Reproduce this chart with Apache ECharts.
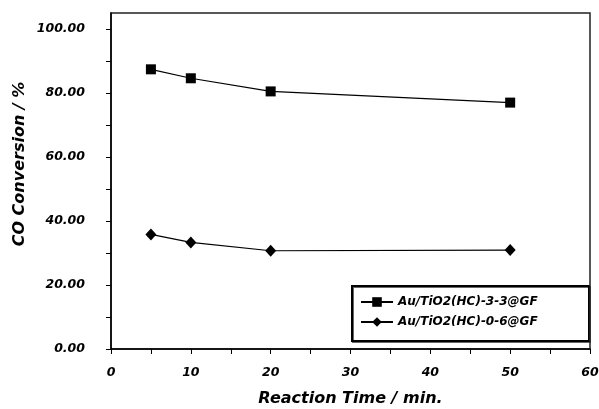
<!DOCTYPE html>
<html>
<head>
<meta charset="utf-8">
<script src="https://cdn.jsdelivr.net/npm/echarts@6/dist/echarts.min.js"></script>
<style>html,body{margin:0;padding:0;background:#fff}#c{width:599px;height:409px}</style>
</head>
<body>
<div id="c"></div>
<script>
const times = [5, 10, 20, 50];
const seriesNames = ['Au/TiO2(HC)-3-3@GF', 'Au/TiO2(HC)-0-6@GF'];
const conv33 = [87.4, 84.6, 80.5, 77.0];
const conv06 = [35.8, 33.3, 30.7, 30.9];
const xTickValues = [0, 5, 10, 15, 20, 25, 30, 35, 40, 45, 50, 55, 60];
const xLabelValues = [0, 10, 20, 30, 40, 50, 60];
const yTickValues = [0, 10, 20, 30, 40, 50, 60, 70, 80, 90, 100];
const yLabelValues = [0, 20, 40, 60, 80, 100];

const FONT = "'DejaVu Sans', sans-serif";
const chart = echarts.init(document.getElementById('c'), null, {renderer: 'canvas'});
const pairs = arr => times.map((t, i) => [t, arr[i]]);

chart.setOption({
  animation: false,
  backgroundColor: '#fff',
  grid: {left: 111, right: 9, top: 13, bottom: 60, containLabel: false, outerBoundsMode: 'none',
         show: true, borderColor: '#222', borderWidth: 1.5},
  xAxis: {
    type: 'value', min: 0, max: 60,
    name: 'Reaction Time / min.', nameLocation: 'middle', nameGap: 42,
    nameTextStyle: {fontFamily: FONT, fontStyle: 'italic', fontWeight: 'bold', fontSize: 16, color: '#000'},
    axisLine: {show: true, lineStyle: {color: '#000', width: 1.5}},
    axisTick: {show: true, length: 5, lineStyle: {color: '#000', width: 1}, customValues: xTickValues},
    axisLabel: {customValues: xLabelValues, margin: 17, fontFamily: FONT, fontStyle: 'italic', fontWeight: 'bold', fontSize: 12.5, color: '#000'},
    splitLine: {show: false}
  },
  yAxis: {
    type: 'value', min: 0, max: 105,
    axisLine: {show: true, lineStyle: {color: '#000', width: 1.5}},
    axisTick: {show: true, length: 5, lineStyle: {color: '#000', width: 1}, customValues: yTickValues},
    axisLabel: {customValues: yLabelValues, margin: 26, formatter: v => v.toFixed(2), fontFamily: FONT, fontStyle: 'italic', fontWeight: 'bold', fontSize: 12.5, color: '#000'},
    splitLine: {show: false}
  },
  legend: {
    left: 360, top: 295, orient: 'vertical', padding: 0,
    itemWidth: 32, itemHeight: 12, itemGap: 6,
    textStyle: {fontFamily: FONT, fontStyle: 'italic', fontWeight: 'bold', fontSize: 12, color: '#000', lineHeight: 14},
    data: seriesNames
  },
  graphic: [
    {type: 'rect', left: 351, top: 285, z: -1, shape: {width: 237, height: 55},
     style: {fill: '#fff', stroke: '#000', lineWidth: 2, shadowColor: 'rgba(0,0,0,0.6)', shadowOffsetX: 1, shadowOffsetY: 1}},
    {type: 'text', x: 20, y: 164, rotation: Math.PI / 2,
     style: {text: 'CO Conversion / %', font: "italic bold 16px 'DejaVu Sans', sans-serif", fill: '#000', align: 'center', verticalAlign: 'middle'}}
  ],
  series: [
    {name: seriesNames[0], type: 'line', data: pairs(conv33), symbol: 'rect', symbolSize: 10,
     lineStyle: {color: '#000', width: 1.2}, itemStyle: {color: '#000'}},
    {name: seriesNames[1], type: 'line', data: pairs(conv06), symbol: 'diamond', symbolSize: [11, 12],
     lineStyle: {color: '#000', width: 1.2}, itemStyle: {color: '#000'}}
  ]
});
</script>
</body>
</html>
